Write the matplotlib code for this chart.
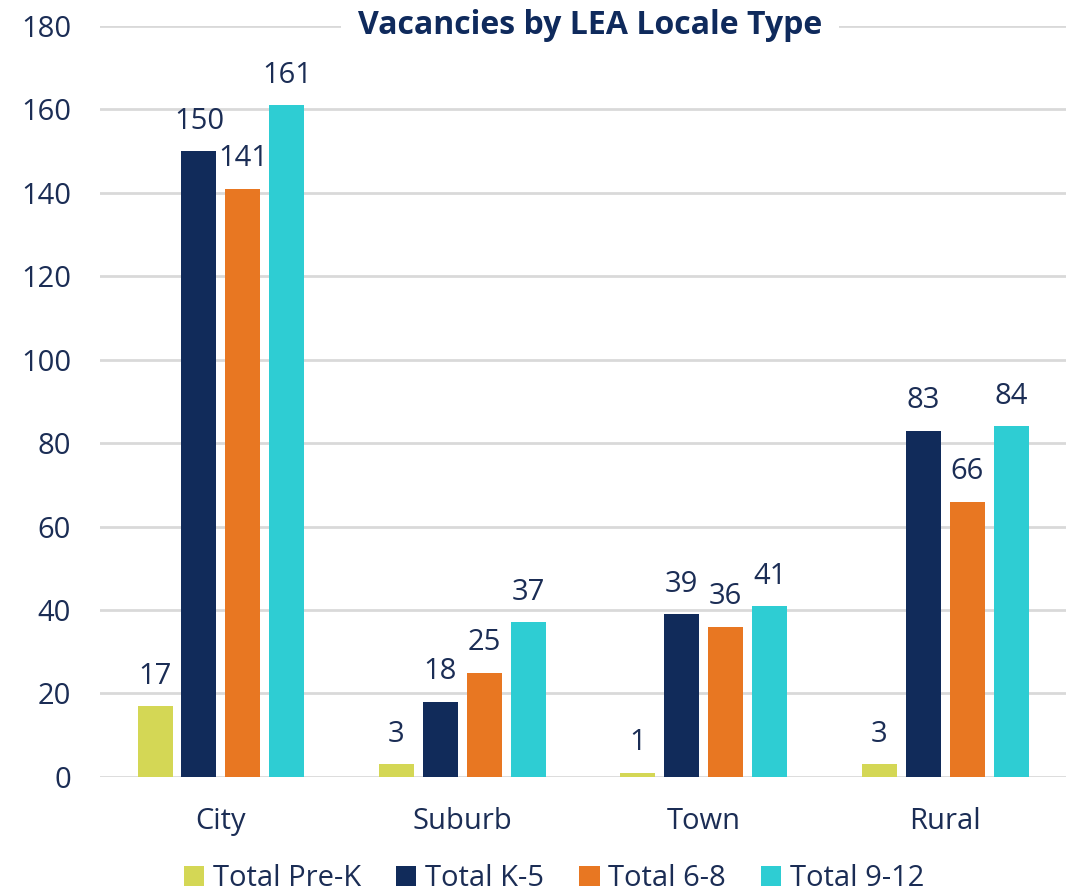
import numpy as np
import matplotlib
matplotlib.use("Agg")
import matplotlib.pyplot as plt

plt.rcParams["font.family"] = ["Open Sans", "DejaVu Sans"]

categories = ["City", "Suburb", "Town", "Rural"]
seriesNames = ["Total Pre-K", "Total K-5", "Total 6-8", "Total 9-12"]
preK = [17, 3, 1, 3]
k5 = [150, 18, 39, 83]
g68 = [141, 25, 36, 66]
g912 = [161, 37, 41, 84]
seriesColors = ["#D4D755", "#112B5A", "#E87722", "#2ECDD3"]
textColor = "#1B2D55"

allSeries = [preK, k5, g68, g912]

figure = plt.figure(figsize=(10.66, 8.96), dpi=100)
axis = figure.add_axes([0.094, 0.133, 0.906, 0.838])

x = np.arange(len(categories))
offsets = [-0.273, -0.091, 0.091, 0.273]
barWidth = 0.145

for values, name, color, offset in zip(allSeries, seriesNames, seriesColors, offsets):
    bars = axis.bar(x + offset, values, width=barWidth, color=color, label=name, zorder=3)
    for bar, value in zip(bars, values):
        axis.annotate(str(value), (bar.get_x() + bar.get_width() / 2, value),
                      xytext=(0, 11), textcoords="offset points",
                      ha="center", va="bottom", fontsize=21, color=textColor)

axis.set_xlim(-0.5, 3.5)
axis.set_ylim(0, 180)
axis.set_yticks(range(0, 181, 20))
axis.set_xticks(x)
axis.set_xticklabels(categories)
axis.tick_params(axis="both", length=0, labelsize=21, labelcolor=textColor)
axis.tick_params(axis="x", pad=22)
axis.tick_params(axis="y", pad=21)
axis.grid(axis="y", color="#D9D9D9", linewidth=2, zorder=0)
for spine in axis.spines.values():
    spine.set_visible(False)

axis.text(0.507, 1.0, "Vacancies by LEA Locale Type", transform=axis.transAxes,
          ha="center", va="center", fontsize=23, fontweight="bold", color="#0F2A5C",
          bbox=dict(facecolor="white", edgecolor="none", pad=12), zorder=5)

axis.legend(loc="lower center", bbox_to_anchor=(0.47, -0.182), ncol=4, frameon=False,
            fontsize=21, labelcolor=textColor, handlelength=0.7, handleheight=0.7,
            handletextpad=0.3, columnspacing=1.2, borderpad=0.2)

figure.savefig("out.png", dpi=100)
